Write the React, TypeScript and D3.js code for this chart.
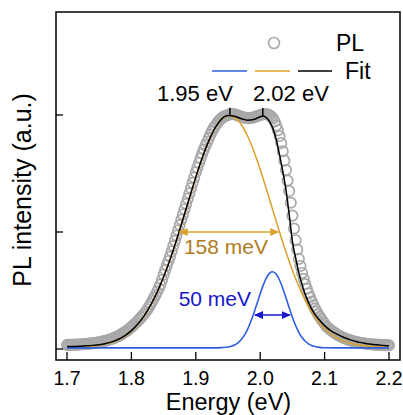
import React from "react";
import * as d3 from "d3";

const W = 403;
const H = 415;

const xTickValues = [1.7, 1.8, 1.9, 2.0, 2.1, 2.2];
const xTickLabels = ["1.7", "1.8", "1.9", "2.0", "2.1", "2.2"];
const yTickValues = [0, 1, 2];

// PL measured data [energy eV, intensity a.u.]
const plData: [number, number][] = [
  [1.7000, 0.035], [1.7025, 0.035], [1.7050, 0.035], [1.7075, 0.036], [1.7100, 0.036],
  [1.7125, 0.037], [1.7150, 0.037], [1.7175, 0.038], [1.7200, 0.039], [1.7225, 0.040],
  [1.7250, 0.041], [1.7275, 0.042], [1.7300, 0.043], [1.7325, 0.045], [1.7350, 0.046],
  [1.7375, 0.048], [1.7400, 0.049], [1.7425, 0.051], [1.7450, 0.053], [1.7475, 0.056],
  [1.7500, 0.058], [1.7525, 0.061], [1.7550, 0.064], [1.7575, 0.067], [1.7600, 0.071],
  [1.7625, 0.075], [1.7650, 0.079], [1.7675, 0.083], [1.7700, 0.088], [1.7725, 0.093],
  [1.7750, 0.099], [1.7775, 0.105], [1.7800, 0.112], [1.7825, 0.119], [1.7850, 0.127],
  [1.7875, 0.136], [1.7900, 0.145], [1.7925, 0.155], [1.7950, 0.165], [1.7975, 0.176],
  [1.8000, 0.188], [1.8025, 0.200], [1.8050, 0.213], [1.8075, 0.226], [1.8100, 0.240],
  [1.8125, 0.255], [1.8150, 0.270], [1.8175, 0.286],
  [1.8200, 0.302], [1.8225, 0.32], [1.8250, 0.34], [1.8275, 0.362], [1.8300, 0.385],
  [1.8325, 0.41], [1.8350, 0.435], [1.8375, 0.462], [1.8400, 0.49], [1.8425, 0.52],
  [1.8450, 0.55], [1.8475, 0.59], [1.8500, 0.635], [1.8525, 0.675], [1.8550, 0.715],
  [1.8575, 0.752], [1.8600, 0.79], [1.8625, 0.835], [1.8650, 0.88], [1.8675, 0.925],
  [1.8700, 0.97], [1.8725, 1.015], [1.8750, 1.06], [1.8775, 1.105], [1.8800, 1.15],
  [1.8825, 1.195], [1.8850, 1.24], [1.8875, 1.285], [1.8900, 1.33], [1.8925, 1.375],
  [1.8950, 1.42], [1.8975, 1.465], [1.9000, 1.51], [1.9025, 1.55], [1.9050, 1.59],
  [1.9075, 1.63], [1.9100, 1.67], [1.9125, 1.705], [1.9150, 1.74], [1.9175, 1.77],
  [1.9200, 1.80], [1.9225, 1.83], [1.9250, 1.86], [1.9275, 1.885], [1.9300, 1.905],
  [1.9325, 1.925], [1.9350, 1.945],
  [1.9375, 1.960], [1.9400, 1.972], [1.9425, 1.982], [1.9450, 1.990], [1.9475, 1.996],
  [1.9500, 2.000], [1.9525, 2.005], [1.9550, 2.008], [1.9575, 2.008], [1.9600, 2.006],
  [1.9625, 2.002], [1.9650, 1.997], [1.9675, 1.992], [1.9700, 1.987], [1.9725, 1.982],
  [1.9750, 1.978], [1.9775, 1.975], [1.9800, 1.973], [1.9825, 1.973], [1.9850, 1.974],
  [1.9875, 1.976], [1.9900, 1.980], [1.9925, 1.985], [1.9950, 1.990], [1.9975, 1.995],
  [2.0000, 2.000], [2.0025, 2.004], [2.0050, 2.007], [2.0075, 2.008], [2.0100, 2.007],
  [2.0125, 2.003], [2.0150, 1.995], [2.0175, 1.984], [2.0200, 1.970],
  [2.0225, 1.945], [2.0250, 1.91], [2.0275, 1.87], [2.0300, 1.82], [2.0325, 1.76],
  [2.0350, 1.69], [2.0375, 1.61], [2.0400, 1.53], [2.0425, 1.44], [2.0450, 1.35],
  [2.0475, 1.25], [2.0500, 1.14], [2.0525, 1.03], [2.0550, 0.93], [2.0575, 0.85],
  [2.0600, 0.77], [2.0625, 0.71], [2.0650, 0.65], [2.0675, 0.60], [2.0700, 0.555],
  [2.0725, 0.515], [2.0750, 0.475], [2.0775, 0.44], [2.0800, 0.405], [2.0825, 0.375],
  [2.0850, 0.345], [2.0875, 0.32], [2.0900, 0.295], [2.0925, 0.275], [2.0950, 0.255],
  [2.0975, 0.235], [2.1000, 0.215],
  [2.1025, 0.197], [2.1050, 0.183], [2.1075, 0.171], [2.1100, 0.160], [2.1125, 0.150],
  [2.1150, 0.140], [2.1175, 0.131], [2.1200, 0.122], [2.1225, 0.114], [2.1250, 0.107],
  [2.1275, 0.100], [2.1300, 0.094], [2.1325, 0.088], [2.1350, 0.083], [2.1375, 0.078],
  [2.1400, 0.074], [2.1425, 0.070], [2.1450, 0.066], [2.1475, 0.062], [2.1500, 0.059],
  [2.1525, 0.056], [2.1550, 0.054], [2.1575, 0.051], [2.1600, 0.049], [2.1625, 0.047],
  [2.1650, 0.045], [2.1675, 0.043], [2.1700, 0.042], [2.1725, 0.040], [2.1750, 0.039],
  [2.1775, 0.038], [2.1800, 0.037], [2.1825, 0.036], [2.1850, 0.035], [2.1875, 0.035],
  [2.1900, 0.034], [2.1925, 0.034], [2.1950, 0.033], [2.1975, 0.033], [2.2000, 0.032],
];

// Fit component at 1.95 eV (orange)
const fitLow: [number, number][] = [
  [1.70, 0.016], [1.71, 0.017], [1.72, 0.019], [1.73, 0.022], [1.74, 0.026],
  [1.75, 0.033], [1.76, 0.044], [1.77, 0.059], [1.78, 0.081], [1.79, 0.112],
  [1.80, 0.155], [1.81, 0.211], [1.82, 0.283], [1.83, 0.374], [1.84, 0.484],
  [1.85, 0.615], [1.86, 0.764], [1.87, 0.930], [1.88, 1.107], [1.89, 1.289],
  [1.90, 1.467], [1.91, 1.632], [1.92, 1.775], [1.93, 1.888], [1.94, 1.963],
  [1.95, 1.994], [1.96, 1.981], [1.97, 1.923], [1.98, 1.825], [1.99, 1.693],
  [2.00, 1.535], [2.01, 1.361], [2.02, 1.179], [2.03, 1.000], [2.04, 0.829],
  [2.05, 0.673], [2.06, 0.534], [2.07, 0.416], [2.08, 0.317], [2.09, 0.238],
  [2.10, 0.175], [2.11, 0.128], [2.12, 0.093], [2.13, 0.067], [2.14, 0.049],
  [2.15, 0.037], [2.16, 0.029], [2.17, 0.023], [2.18, 0.020], [2.19, 0.018],
  [2.20, 0.017],
];

// Fit component at 2.02 eV (blue)
const fitHigh: [number, number][] = [
  [1.70, 0.01], [1.75, 0.01], [1.80, 0.01], [1.85, 0.01], [1.90, 0.01],
  [1.93, 0.01], [1.94, 0.012], [1.95, 0.017], [1.955, 0.0235], [1.96, 0.034],
  [1.965, 0.051], [1.97, 0.077], [1.975, 0.114], [1.98, 0.164], [1.985, 0.228],
  [1.99, 0.304], [1.995, 0.387], [2.00, 0.472], [2.005, 0.550], [2.01, 0.612],
  [2.015, 0.650], [2.019, 0.660], [2.025, 0.638], [2.03, 0.590], [2.035, 0.520],
  [2.04, 0.438], [2.045, 0.353], [2.05, 0.272], [2.055, 0.201], [2.06, 0.143],
  [2.065, 0.098], [2.07, 0.066], [2.075, 0.044], [2.08, 0.029], [2.085, 0.021],
  [2.09, 0.016], [2.10, 0.011], [2.12, 0.01], [2.15, 0.01], [2.20, 0.01],
];

// Total fit (black)
const fitTotal: [number, number][] = [
  [1.70, 0.021], [1.71, 0.022], [1.72, 0.024], [1.73, 0.027], [1.74, 0.031],
  [1.75, 0.037], [1.76, 0.047], [1.77, 0.061], [1.78, 0.083], [1.79, 0.115],
  [1.80, 0.157], [1.81, 0.213], [1.82, 0.285], [1.83, 0.376], [1.84, 0.486],
  [1.85, 0.617], [1.86, 0.766], [1.87, 0.932], [1.88, 1.109], [1.89, 1.291],
  [1.90, 1.469], [1.91, 1.634], [1.92, 1.777], [1.93, 1.890], [1.94, 1.965],
  [1.95, 1.995], [1.96, 1.990], [1.97, 1.970], [1.98, 1.956], [1.99, 1.962],
  [2.00, 1.985], [2.005, 1.992], [2.01, 1.975], [2.015, 1.940], [2.02, 1.880],
  [2.025, 1.790], [2.03, 1.660], [2.035, 1.520], [2.04, 1.360], [2.045, 1.150],
  [2.05, 0.920], [2.055, 0.780], [2.06, 0.650], [2.065, 0.550], [2.07, 0.465],
  [2.08, 0.340], [2.09, 0.260], [2.10, 0.200], [2.11, 0.155], [2.12, 0.125],
  [2.13, 0.098], [2.14, 0.078], [2.15, 0.062], [2.16, 0.052], [2.17, 0.043],
  [2.18, 0.036], [2.19, 0.031], [2.20, 0.027],
];

// Peak positions marked on the total fit
const peakEnergies = [1.953, 2.004];
const peakLabels = ["1.95 eV", "2.02 eV"];
// FWHM arrows [start eV, end eV, level]
const fwhmLow = [1.875, 2.028, 1.0];
const fwhmHigh = [1.992, 2.046, 0.29];
const fwhmLabels = ["158 meV", "50 meV"];

const C_GRAY = "#a8a8a8";
const C_ORANGE = "#dca02c";
const C_ORANGE_TXT = "#b07c22";
const C_BLUE = "#2e5ee0";
const C_BLUE_DARK = "#1616cc";
const FONT = "'Liberation Sans', Arial, Helvetica, sans-serif";

export default function App() {
  const x = d3.scaleLinear().domain([1.7, 2.2]).range([67, 389]);
  const y = d3.scaleLinear().domain([0, 2]).range([349, 115]);
  const L = 56, R = 400, T = 12, B = 360;

  const line = d3
    .line<[number, number]>()
    .x((d) => x(d[0]))
    .y((d) => y(d[1]))
    .curve(d3.curveMonotoneX);

  const totalAt = (e: number) => {
    const i = d3.bisector((d: [number, number]) => d[0]).left(fitTotal, e);
    const a = fitTotal[Math.max(0, i - 1)], b = fitTotal[Math.min(fitTotal.length - 1, i)];
    if (a[0] === b[0]) return a[1];
    return a[1] + ((b[1] - a[1]) * (e - a[0])) / (b[0] - a[0]);
  };

  return (
    <svg
      width={W}
      height={H}
      style={{ position: "absolute", left: 0, top: 0, background: "#fff" }}
      fontFamily={FONT}
    >
      <defs>
        <marker id="ahO" markerUnits="userSpaceOnUse" markerWidth="9" markerHeight="8"
          refX="8" refY="4" orient="auto-start-reverse">
          <path d="M0,0 L9,4 L0,8 z" fill={C_ORANGE} />
        </marker>
        <marker id="ahB" markerUnits="userSpaceOnUse" markerWidth="9" markerHeight="8"
          refX="8" refY="4" orient="auto-start-reverse">
          <path d="M0,0 L9,4 L0,8 z" fill={C_BLUE_DARK} />
        </marker>
      </defs>
      <rect x={0} y={0} width={W} height={H} fill="#fff" />

      {/* PL data */}
      <g fill="none" stroke={C_GRAY} strokeWidth={1.7}>
        {plData.map((d, i) => (
          <circle key={i} cx={x(d[0])} cy={y(d[1])} r={5.2} />
        ))}
      </g>

      {/* fits */}
      <path d={line(fitLow) || ""} fill="none" stroke={C_ORANGE} strokeWidth={1.5} />
      <path d={line(fitHigh) || ""} fill="none" stroke={C_BLUE} strokeWidth={1.6} />
      <path d={line(fitTotal) || ""} fill="none" stroke="#000" strokeWidth={1.5} />

      {/* peak marks */}
      {peakEnergies.map((e, i) => (
        <line key={i} x1={x(e)} x2={x(e)} y1={y(totalAt(e))} y2={y(totalAt(e)) - 8}
          stroke="#000" strokeWidth={1.5} />
      ))}
      <text x={157} y={101} fontSize={22} fill="#000">{peakLabels[0]}</text>
      <text x={253} y={101} fontSize={22} fill="#000">{peakLabels[1]}</text>

      {/* FWHM arrows */}
      <line x1={x(fwhmLow[0])} x2={x(fwhmLow[1])} y1={y(fwhmLow[2])} y2={y(fwhmLow[2])}
        stroke={C_ORANGE} strokeWidth={1.6} markerStart="url(#ahO)" markerEnd="url(#ahO)" />
      <text x={(x(fwhmLow[0]) + x(fwhmLow[1])) / 2 - 3} y={y(fwhmLow[2]) + 22} fontSize={21}
        fill={C_ORANGE_TXT} textAnchor="middle">{fwhmLabels[0]}</text>
      <line x1={x(fwhmHigh[0])} x2={x(fwhmHigh[1])} y1={y(fwhmHigh[2])} y2={y(fwhmHigh[2])}
        stroke={C_BLUE_DARK} strokeWidth={1.6} markerStart="url(#ahB)" markerEnd="url(#ahB)" />
      <text x={x(fwhmHigh[0]) - 4} y={y(fwhmHigh[2]) - 9} fontSize={21}
        fill={C_BLUE_DARK} textAnchor="end">{fwhmLabels[1]}</text>

      {/* legend */}
      <circle cx={274} cy={43} r={5.5} fill="none" stroke={C_GRAY} strokeWidth={1.6} />
      <text x={336} y={51} fontSize={23} fill="#000">PL</text>
      <line x1={212} x2={247} y1={71} y2={71} stroke={C_BLUE} strokeWidth={1.6} />
      <line x1={255} x2={290} y1={71} y2={71} stroke={C_ORANGE} strokeWidth={1.6} />
      <line x1={298} x2={332} y1={71} y2={71} stroke="#000" strokeWidth={1.5} />
      <text x={345} y={79} fontSize={23} fill="#000">Fit</text>

      {/* frame */}
      <rect x={L} y={T} width={R - L} height={B - T} fill="none" stroke="#000" strokeWidth={1.5} />

      {/* ticks */}
      {xTickValues.map((v, i) => (
        <g key={i}>
          <line x1={x(v)} x2={x(v)} y1={B} y2={B - 8} stroke="#000" strokeWidth={1.3} />
          <text x={x(v)} y={385} fontSize={19.5} textAnchor="middle" fill="#000">{xTickLabels[i]}</text>
        </g>
      ))}
      {yTickValues.map((v, i) => (
        <line key={i} x1={L} x2={L + 7} y1={y(v)} y2={y(v)} stroke="#000" strokeWidth={1.3} />
      ))}

      {/* axis titles */}
      <text x={228.5} y={410} fontSize={23.5} textAnchor="middle" fill="#000">Energy (eV)</text>
      <text transform="translate(31,190) rotate(-90)" fontSize={25} textAnchor="middle" fill="#000">
        PL intensity (a.u.)
      </text>
    </svg>
  );
}
